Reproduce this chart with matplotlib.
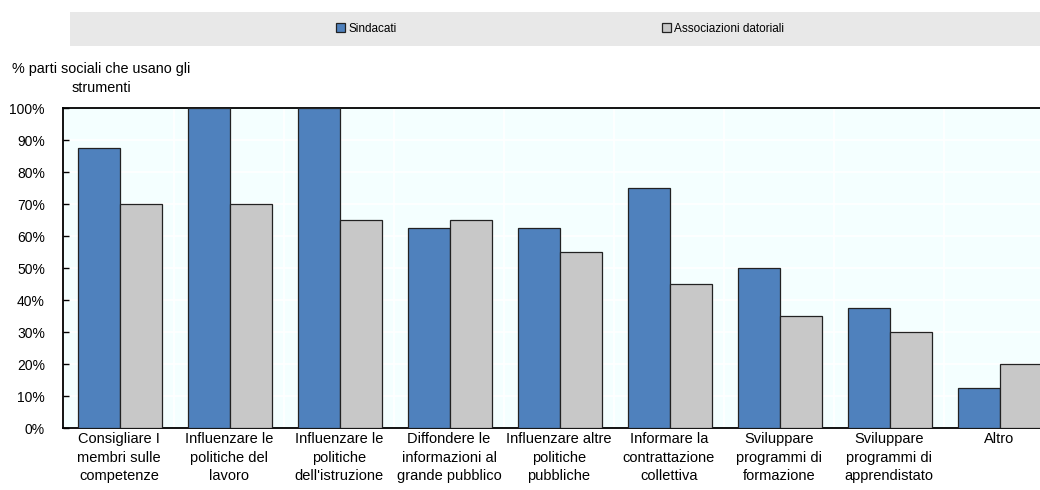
import matplotlib
matplotlib.use("Agg")
import matplotlib.pyplot as plt
import numpy as np
from matplotlib.patches import Rectangle

plt.rcParams['font.family'] = ['Liberation Sans', 'DejaVu Sans']
plt.rcParams['font.size'] = 9

categories = ['Consigliare I\nmembri sulle\ncompetenze',
              'Influenzare le\npolitiche del\nlavoro',
              'Influenzare le\npolitiche\ndell\'istruzione',
              'Diffondere le\ninformazioni al\ngrande pubblico',
              'Influenzare altre\npolitiche\npubbliche',
              'Informare la\ncontrattazione\ncollettiva',
              'Sviluppare\nprogrammi di\nformazione',
              'Sviluppare\nprogrammi di\napprendistato',
              'Altro']
sindacati = [87.5, 100, 100, 62.5, 62.5, 75, 50, 37.5, 12.5]
associazioni = [70, 70, 65, 65, 55, 45, 35, 30, 20]
series_names = ['Sindacati', 'Associazioni datoriali']

blue = '#4F81BD'
grey = '#C8C8C8'

fig = plt.figure(figsize=(10.4, 4.9), dpi=100)
ax = fig.add_axes([63/1040, 1-428/490, 992/1040, 320/490])
ax.set_facecolor('#F4FFFF')

x = np.arange(len(categories))
w = 0.38
b1 = ax.bar(x - w/2 + 0.01, sindacati, w, color=blue, edgecolor='#222222', linewidth=0.9, zorder=3, label=series_names[0])
b2 = ax.bar(x + w/2 + 0.01, associazioni, w, color=grey, edgecolor='#222222', linewidth=0.9, zorder=3, label=series_names[1])

ax.set_xlim(-0.51, len(categories) - 0.49)
ax.set_ylim(0, 100)
ax.set_yticks(np.arange(0, 101, 10))
ax.set_yticklabels([f'{v}%' for v in range(0, 101, 10)], fontsize=10)
ax.set_xticks(x)
ax.set_xticklabels(categories, fontsize=10.5, linespacing=1.42)
ax.tick_params(axis='x', length=0, pad=3)
ax.tick_params(axis='y', direction='in', length=4, width=1, pad=13)

# white grid
for yv in range(10, 100, 10):
    ax.axhline(yv, color='white', linewidth=1.2, zorder=1)
for xv in np.arange(0.5, len(categories) - 0.5, 1):
    ax.axvline(xv, color='white', linewidth=1.2, zorder=1)

for s in ['left', 'bottom', 'top']:
    ax.spines[s].set_color('black')
    ax.spines[s].set_linewidth(1.3)
ax.spines['right'].set_visible(False)

fig.text(12/1040, 1-69/490, '% parti sociali che usano gli', fontsize=10.4, va='center', ha='left')
fig.text(72/1040, 1-88/490, 'strumenti', fontsize=10.4, va='center', ha='left')

# legend band
fig.patches.append(Rectangle((70/1040, 1-46/490), 970/1040, 34/490, transform=fig.transFigure,
                             facecolor='#E8E8E8', edgecolor='none', zorder=0))
leg = fig.legend(handles=[b1, b2], loc='center', bbox_to_anchor=(560/1040, 1-29/490), ncol=2,
                 frameon=False, fontsize=8.5, handlelength=0.8, handleheight=0.8,
                 handletextpad=0.25, columnspacing=22.5)

fig.savefig('out.png', dpi=100)
